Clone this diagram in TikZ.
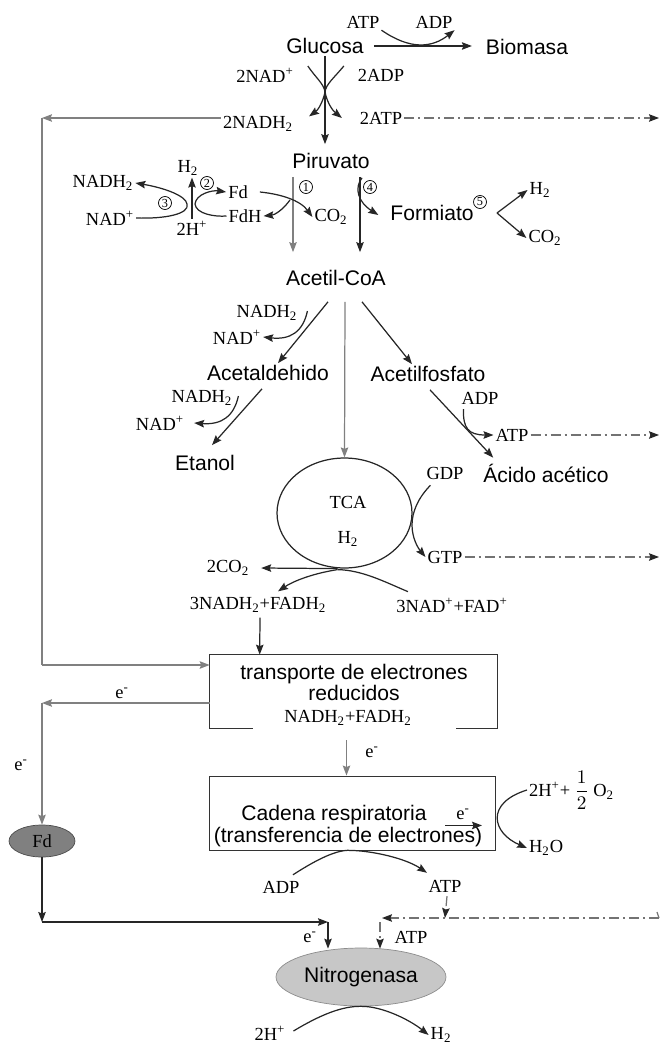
\documentclass[tikz,border=0pt]{standalone}
\usepackage{fontspec}
\setmainfont{Liberation Serif}
\setsansfont{Liberation Sans}
\usetikzlibrary{arrows.meta,positioning,calc,shapes.geometric}

\begin{document}
\begin{tikzpicture}[
	x=0.02cm,y=-0.02cm,
	met/.style={font=\sffamily\fontsize{12}{12}\selectfont,inner sep=1pt},
	cof/.style={font=\fontsize{10.5}{12}\selectfont,inner sep=1pt},
	num/.style={circle,draw,line width=0.4pt,inner sep=0pt,minimum size=0.26cm,font=\fontsize{7}{7}\selectfont},
	line/.style={line width=0.7pt,draw=black!85},
	arrow/.style={line,-{Stealth[length=2mm,width=1.5mm,inset=0.3mm]}},
	soft/.style={arrow,draw=black!50},
	dd/.style={line,draw=black!55,-{Stealth[length=2mm,width=1.5mm,inset=0.3mm,color=black!85]},dash pattern=on 2mm off 0.8mm on 0.4mm off 0.8mm}
	]
	\useasboundingbox (0,0) rectangle (661,1044);
	
	% glucosa -> piruvato
	\node[met] (glu) at (325,46) {Glucosa};
	\node[met] (bio) at (527,47) {Biomasa};
	\node[cof] (atp0) at (363,22) {ATP};
	\node[cof] (adp0) at (434,22) {ADP};
	\node[cof] (nad1) at (265,75) {2NAD\textsuperscript{+}};
	\node[cof] (adp1) at (381,75) {2ADP};
	\node[cof] (nadh1) at (258,124) {2NADH\textsubscript{2}};
	\node[cof] (atp1) at (381,118) {2ATP};
	\node[met] (pir) at (331,161) {Piruvato};
	\coordinate (gx) at (325,92);
	\coordinate (r1) at (659,118);
	
	\draw[arrow,shorten <=1.6mm,shorten >=2.4mm] (glu.east) -- (glu.east -| bio.west);
	\draw[arrow] (atp0.south east) .. controls (410,50) and (432,48) .. (adp0.south east);
	\draw[arrow,shorten >=1.4mm] (glu.south) -- (glu.south |- pir.north);
	\draw[line] ($(nad1.east)+(12,-9)$) .. controls (316,78) and (324,84) .. (gx);
	\draw[line] ($(adp1.west)+(-12,-9)$) .. controls (334,78) and (326,84) .. (gx);
	\draw[arrow] (gx) .. controls (323,102) and (318,110) .. ($(nadh1.north east)+(14,2)$);
	\draw[arrow] (gx) .. controls (327,102) and (332,110) .. ($(atp1.west)+(-16,0)$);
	\draw[dd] (atp1.east) -- (r1);
	
	% piruvato -> acetil-CoA
	\node[met] (acoa) at (336,278) {Acetil-CoA};
	\node[met] (form) at (432,213) {Formiato};
	\node[cof] (co2a) at (331,217) {CO\textsubscript{2}};
	\node[cof] (fda) at (238,192) {Fd};
	\node[cof] (fdh) at (245,216) {FdH};
	\node[cof] (h2a) at (188,168) {H\textsubscript{2}};
	\node[cof] (h2p) at (192,228) {2H\textsuperscript{+}};
	\node[cof] (nadh2) at (103,183) {NADH\textsubscript{2}};
	\node[cof] (nad2) at (110,218) {NAD\textsuperscript{+}};
	\node[cof] (h2b) at (540,190) {H\textsubscript{2}};
	\node[cof] (co2b) at (545,238) {CO\textsubscript{2}};
	\node[num] (n1) at (306,187) {1};
	\node[num] (n2) at (207,183) {2};
	\node[num] (n3) at (165,203) {3};
	\node[num] (n4) at (370,187) {4};
	\node[num] (n5) at (480,202) {5};
	\coordinate (c1) at (290,200);
	\coordinate (hv) at (195,204);
	\coordinate (nv) at (187,204);
	\coordinate (fv) at (497,213);
	
	\draw[soft] ($(pir.south)+(-38,6)$) -- ($(acoa.north)+(-43,-16)$);
	\draw[arrow] ($(pir.south)+(29,6)$) -- ($(acoa.north)+(24,-16)$);
	\draw[arrow] ($(fda.east)+(10,0)$) .. controls (280,194) and (300,200) .. (co2a.west);
	\draw[arrow] (c1) .. controls (282,211) and (274,215) .. (fdh.east);
	\draw[arrow] ($(pir.south)+(31,7)$) .. controls (354,188) and (358,202) .. ($(form.west)+(-10,2)$);
	\draw[arrow] (fv) -- (h2b.west);
	\draw[arrow] (fv) -- (co2b.west);
	\draw[arrow] (h2p.north) -- (h2p.north |- h2a.south);
	\draw[arrow] (fdh.west) .. controls (215,217) and (196,214) .. (hv) .. controls (196,194) and (212,190) .. (fda.west);
	\draw[arrow] (nad2.east) .. controls (165,219) and (190,214) .. (nv) .. controls (186,196) and (165,188) .. (nadh2.east);
	
	% acetil-CoA branches
	\node[met] (ald) at (268,373) {Acetaldehido};
	\node[met] (afos) at (428,374) {Acetilfosfato};
	\node[met] (etoh) at (205,463) {Etanol};
	\node[met] (acet) at (546,473) {Ácido acético};
	\node[cof] (nadh3) at (267,313) {NADH\textsubscript{2}};
	\node[cof] (nad3) at (237,337) {NAD\textsuperscript{+}};
	\node[cof] (nadh4) at (202,398) {NADH\textsubscript{2}};
	\node[cof] (nad4) at (160,423) {NAD\textsuperscript{+}};
	\node[cof] (adp2) at (480,398) {ADP};
	\node[cof] (atp2) at (512,435) {ATP};
	\coordinate (r2) at (659,435);
	
	\draw[arrow] ($(acoa.south)+(-8,14)$) -- ($(ald.north)+(10,0)$);
	\draw[arrow] ($(nadh3.east)+(8,-2)$) .. controls (303,332) and (290,340) .. (nad3.east);
	\draw[arrow] ($(acoa.south)+(26,14)$) -- ($(afos.north)+(-16,0)$);
	\draw[arrow] ($(ald.south)+(-6,6)$) -- ($(etoh.north)+(7,-8)$);
	\draw[arrow] ($(nadh4.east)+(4,-2)$) .. controls (234,416) and (222,425) .. ($(nad4.east)+(8,0)$);
	\draw[arrow] ($(afos.south)+(2,6)$) -- ($(acet.north west)+(12,-4)$);
	\draw[arrow] ($(adp2.south west)+(4,3)$) .. controls (463,428) and (468,435) .. (atp2.west);
	\draw[dd] (atp2.east) -- (r2);
	
	% TCA
	\node[ellipse,draw=black!85,line width=0.7pt,minimum width=2.7cm,minimum height=2.2cm,inner sep=0] (tca) at (344.5,513) {};
	\node[cof,align=center] (tcal) at (348,521) {TCA\\[8pt]H\textsubscript{2}};
	\node[cof] (gdp) at (445,473) {GDP};
	\node[cof] (gtp) at (445,557) {GTP};
	\node[cof] (co2c) at (228,568) {2CO\textsubscript{2}};
	\node[cof] (nadh5) at (258,605) {3NADH\textsubscript{2}+FADH\textsubscript{2}};
	\node[cof] (nad5) at (452,605) {3NAD\textsuperscript{+}+FAD\textsuperscript{+}};
	\coordinate (r3) at (659,557);
	
	\draw[soft] ($(acoa.south)+(9,14)$) -- (tca.north);
	\draw[arrow] ($(gdp.south west)+(6,4)$) .. controls (418,498) and (412,512) .. (412,525) .. controls (412,538) and (418,548) .. (gtp.west);
	\draw[dd] (gtp.east) -- (r3);
	\draw[arrow] ($(tca.south)+(-7,0)$) -- ($(co2c.east)+(10,0)$);
	\draw[arrow] ($(tca.south)+(-7,1)$) .. controls (310,574) and (292,582) .. ($(nadh5.north)+(20,-4)$);
	\draw[line] ($(nad5.north)+(-44,-4)$) .. controls (385,582) and (362,570) .. ($(tca.south)+(-7,1)$);
	
	% electron transport
	\node[minimum width=5.74cm,minimum height=1.46cm] (tr) at (353.5,691.5) {};
	\node[met,align=center] (trl) at (354,682) {transporte de electrones\\reducidos};
	\node[cof] (trn) at (348,718) {NADH\textsubscript{2}+FADH\textsubscript{2}};
	\node[draw=black!80,line width=0.55pt,minimum width=5.74cm,minimum height=1.48cm] (cad) at (352.5,813) {};
	\node[met,align=center] (cadl) at (348,826) {Cadena respiratoria\hspace*{0.56cm}\\(transferencia de electrones)};
	\node[cof] (e1) at (122,693) {e\textsuperscript{-}};
	\node[cof] (e0) at (21,765) {e\textsuperscript{-}};
	\node[cof] (e2) at (372,752) {e\textsuperscript{-}};
	\node[cof] (e3) at (463,814) {e\textsuperscript{-}};
	\node[cof,anchor=west] (o2) at (527,790) {2H\textsuperscript{+}+ $\displaystyle\frac{1}{2}$ O\textsubscript{2}};
	\node[cof,anchor=west] (h2o) at (527,848) {H\textsubscript{2}O};
	\node[cof] (adp3) at (281,887) {ADP};
	\node[cof] (atp3) at (445,886) {ATP};
	\node[ellipse,draw=black!70,fill=black!50,minimum width=1.32cm,minimum height=0.64cm,inner sep=0,cof] (fd) at (42,841) {Fd};
	\coordinate (fb1) at (42,118);
	\coordinate (fb2) at (42,665);
	\coordinate (fd0) at (42,703);
	
	\draw[line,line width=0.55pt,draw=black!80] ($(tr.south west)+(43,0)$) -- (tr.south west) -- (tr.north west) -- (tr.north east) -- (tr.south east) -- ($(tr.south east)+(-41,0)$);
	\draw[soft] (nadh1.west |- fb1) -- (fb1);
	\draw[line,draw=black!50] (fb1) -- (fb2);
	\draw[soft] (fb2) -- (fb2 -| tr.west);
	\draw[arrow] ($(nadh5.south)+(2,3)$) -- ($(tr.north west)+(50,0)$);
	\draw[soft] (tr.west |- fd0) -- (fd0);
	\draw[soft] (fd0) -- (fd.north);
	\draw[soft] ($(tr.south)+(-7,12)$) -- ($(cad.north)+(-6,0)$);
	\draw[arrow] ($(e3.south)+(-18,4)$) -- ($(e3.south)+(19,4)$);
	\draw[arrow] (o2.west) .. controls (485,803) and (492,833) .. (h2o.west);
	\draw[arrow] ($(adp3.north)+(12,-4)$) .. controls (322,856) and (340,849) .. (cad.south) .. controls (372,851) and (405,858) .. ($(atp3.north)+(-18,-5)$);
	
	% nitrogenasa
	\node[ellipse,draw=black!45,fill=black!22,minimum width=3.4cm,minimum height=1.16cm,met] (nit) at (361,977) {Nitrogenasa};
	\node[cof] (e4) at (310,937) {e\textsuperscript{-}};
	\node[cof] (atp4) at (411,937) {ATP};
	\node[cof] (h2p2) at (270,1033) {2H\textsuperscript{+}};
	\node[cof] (h2c) at (441,1035) {H\textsubscript{2}};
	\coordinate (bl) at (42,922);
	\coordinate (be) at (328,922);
	\coordinate (rr) at (659,918);
	\coordinate (bd) at (382,918);
	
	\draw[arrow] (fd.south) -- (bl);
	\draw[arrow] (bl) -- (be);
	\draw[arrow] (be) -- ($(nit.north)+(-33,1)$);
	\draw[dd] (rr) -- (bd);
	\draw[line,draw=black!55] (rr) -- ++(-2,-6);
	\draw[dd] ($(bd)+(-2,4)$) -- ($(nit.north)+(19,1)$);
	\draw[dd] ($(atp3.south)+(2,2)$) -- (atp3.south |- rr);
	\draw[arrow] ($(h2p2.east)+(6,-2)$) .. controls (320,1015) and (342,1006) .. (nit.south) .. controls (382,1006) and (410,1020) .. (h2c.west);
	
\end{tikzpicture}
\end{document}
